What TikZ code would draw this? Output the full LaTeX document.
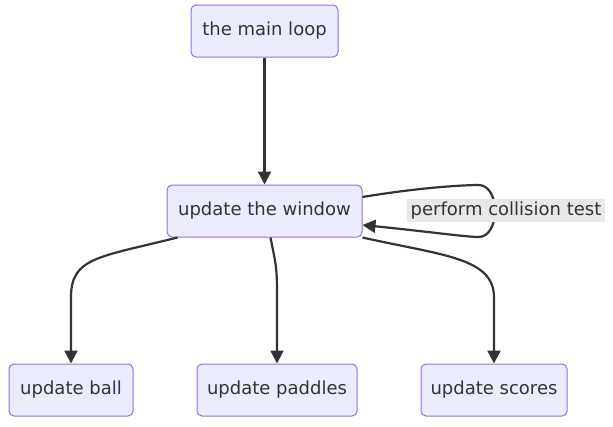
\documentclass[tikz,border=0pt]{standalone}
\usepackage{fontspec}
\setmainfont{DejaVu Sans}
\usetikzlibrary{arrows.meta}
\definecolor{nodefill}{HTML}{ECECFF}
\definecolor{nodeline}{HTML}{9370DB}
\definecolor{edgecol}{HTML}{333333}
\definecolor{lblbg}{HTML}{E8E8E8}
\begin{document}
\begin{tikzpicture}[x=1pt,y=-1pt,
  box/.style={draw=nodeline, fill=nodefill, line width=1pt, rounded corners=5pt,
    minimum height=52pt, inner sep=0pt, text=edgecol, font=\fontsize{18}{20}\selectfont},
  edge/.style={draw=edgecol, line width=2.2pt, -{Triangle[length=13pt,width=13pt]}},
  lbl/.style={fill=lblbg, inner sep=0pt, minimum width=198pt, minimum height=23pt,
    text=edgecol, font=\fontsize{18}{20}\selectfont}]
\useasboundingbox (0,0) rectangle (613,426);
\node[box, minimum width=147pt] (main) at (264.5,31) {the main loop};
\node[box, minimum width=195pt] (win) at (264.5,211) {update the window};
\node[box, minimum width=124pt] (ball) at (71,390) {update ball};
\node[box, minimum width=160pt] (pad) at (277,390) {update paddles};
\node[box, minimum width=146pt] (sco) at (494,390) {update scores};

\draw[edge] (main.south) -- (win.north);
\draw[edge] ([xshift=11pt]win.south west) .. controls +(-80,20) and +(0,-40) .. ([yshift=66pt]ball.north) -- (ball.north);
\draw[edge] ([xshift=6pt]win.south) .. controls +(6,30) and +(0,-30) .. ([yshift=66pt]pad.north) -- (pad.north);
\draw[edge] (win.south east) .. controls +(80,18) and +(0,-40) .. ([yshift=66pt]sco.north) -- (sco.north);

\draw[edge] ([yshift=14pt]win.east) .. controls +(60,-10) and +(-12,0) .. ([xshift=116pt,yshift=26pt]win.east)
  .. controls +(22,0) and +(22,0) .. ([xshift=116pt,yshift=-26pt]win.east)
  .. controls +(-12,0) and +(60,6) .. ([yshift=-14pt]win.east);
\node[lbl] (lab) at (506,210.5) {perform collision test};
\end{tikzpicture}
\end{document}
